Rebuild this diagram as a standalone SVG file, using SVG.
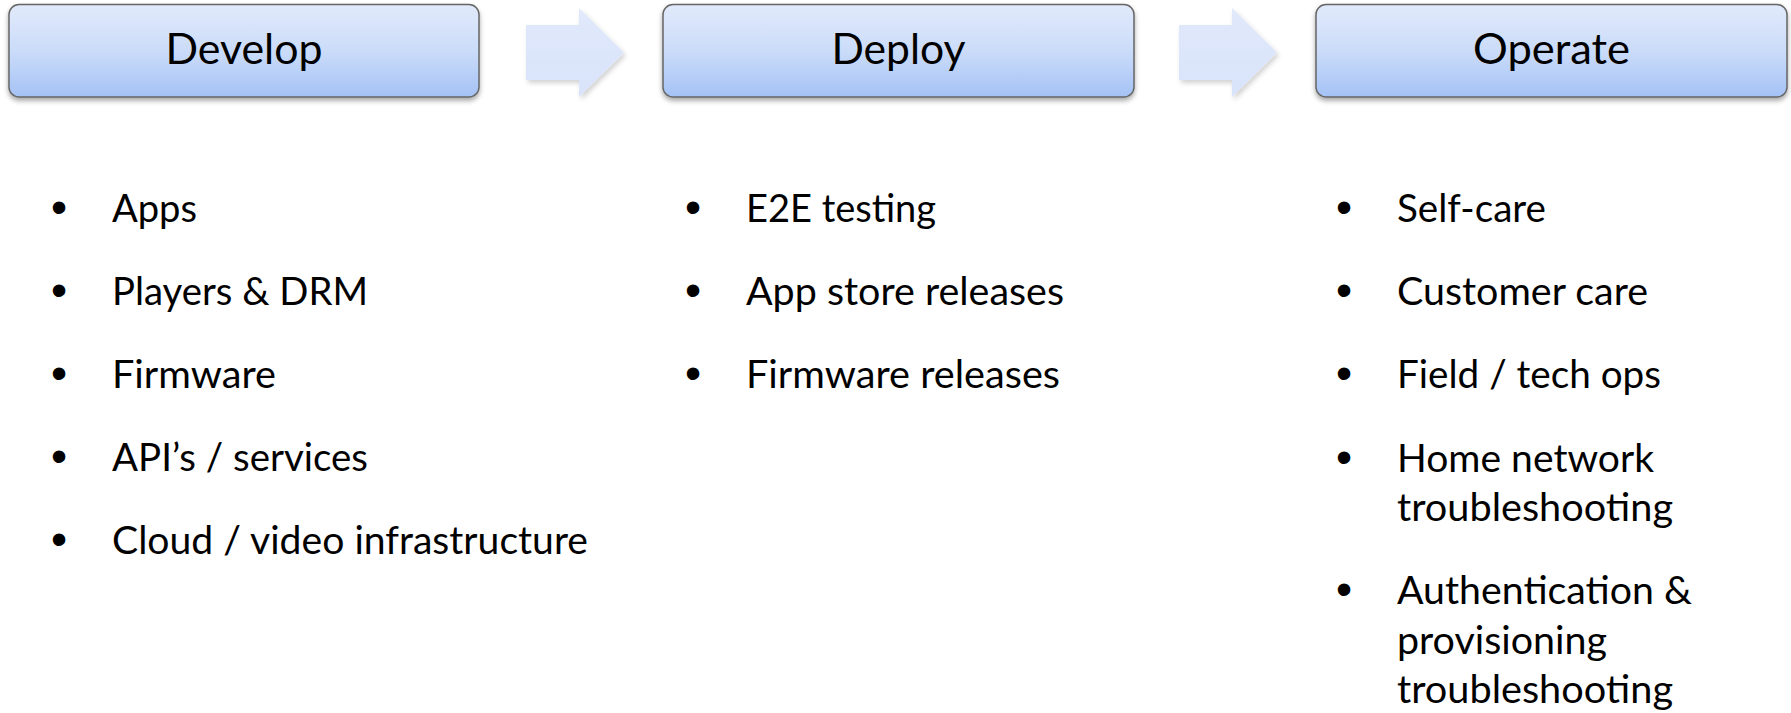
<svg xmlns="http://www.w3.org/2000/svg" width="1791" height="713" viewBox="0 0 1791 713">
  <defs>
    <linearGradient id="boxGrad" x1="0" y1="0" x2="0" y2="1">
      <stop offset="0" stop-color="#e1eafb"/>
      <stop offset="0.5" stop-color="#cbdcf9"/>
      <stop offset="1" stop-color="#a4c2f6"/>
    </linearGradient>
    <linearGradient id="arrowGrad" x1="0" y1="0" x2="0" y2="1">
      <stop offset="0" stop-color="#e1e9fb"/>
      <stop offset="1" stop-color="#d8e3fa"/>
    </linearGradient>
    <filter id="boxShadow" x="-5%" y="-20%" width="110%" height="150%">
      <feDropShadow dx="0" dy="3" stdDeviation="2.5" flood-color="#000" flood-opacity="0.35"/>
    </filter>
    <filter id="arrowShadow" x="-20%" y="-20%" width="140%" height="150%">
      <feDropShadow dx="2" dy="3" stdDeviation="2.5" flood-color="#000" flood-opacity="0.18"/>
    </filter>
  </defs>
  <style>
    .box { fill: url(#boxGrad); stroke: #666; stroke-width: 1.5; filter: url(#boxShadow); }
    .arrow { fill: url(#arrowGrad); stroke: none; filter: url(#arrowShadow); }
    .head { font-family: Lato, "Open Sans", "Liberation Sans", sans-serif; font-size: 42px; fill: #000; text-anchor: middle; }
    .item { font-family: Lato, "Open Sans", "Liberation Sans", sans-serif; font-size: 38px; fill: #000; }
    .bul { font-family: "Liberation Sans", Arial, sans-serif; font-size: 46px; fill: #000; text-anchor: middle; }
  </style>
  <rect width="1791" height="713" fill="#ffffff"/>

  <g id="connectors">
    <polygon class="arrow" points="526,25 579,25 579,8 624,52.5 579,97 579,80 526,80"/>
    <polygon class="arrow" points="1179,25 1232,25 1232,8 1277,52.5 1232,97 1232,80 1179,80"/>
  </g>

  <g id="develop">
    <rect class="box" x="9" y="4.5" width="470" height="92.5" rx="10" ry="10"/>
    <text class="head" x="244" y="64" textLength="157" lengthAdjust="spacingAndGlyphs">Develop</text>
    <text class="bul" x="59" y="222.5">•</text>
    <text class="item" x="112" y="221.5" textLength="85" lengthAdjust="spacingAndGlyphs">Apps</text>
    <text class="bul" x="59" y="305.5">•</text>
    <text class="item" x="112" y="304.5" textLength="256" lengthAdjust="spacingAndGlyphs">Players &amp; DRM</text>
    <text class="bul" x="59" y="388.5">•</text>
    <text class="item" x="112" y="387.5" textLength="164" lengthAdjust="spacingAndGlyphs">Firmware</text>
    <text class="bul" x="59" y="471.5">•</text>
    <text class="item" x="112" y="470.5" textLength="256" lengthAdjust="spacingAndGlyphs">API’s / services</text>
    <text class="bul" x="59" y="554.5">•</text>
    <text class="item" x="112" y="553.5" textLength="476" lengthAdjust="spacingAndGlyphs">Cloud / video infrastructure</text>
  </g>

  <g id="deploy">
    <rect class="box" x="663" y="4.5" width="471" height="92.5" rx="10" ry="10"/>
    <text class="head" x="898.5" y="64" textLength="134" lengthAdjust="spacingAndGlyphs">Deploy</text>
    <text class="bul" x="693" y="222.5">•</text>
    <text class="item" x="746" y="221.5" textLength="190" lengthAdjust="spacingAndGlyphs">E2E testing</text>
    <text class="bul" x="693" y="305.5">•</text>
    <text class="item" x="746" y="304.5" textLength="318" lengthAdjust="spacingAndGlyphs">App store releases</text>
    <text class="bul" x="693" y="388.5">•</text>
    <text class="item" x="746" y="387.5" textLength="314" lengthAdjust="spacingAndGlyphs">Firmware releases</text>
  </g>

  <g id="operate">
    <rect class="box" x="1316" y="4.5" width="471" height="92.5" rx="10" ry="10"/>
    <text class="head" x="1551.5" y="64" textLength="157" lengthAdjust="spacingAndGlyphs">Operate</text>
    <text class="bul" x="1344" y="222.5">•</text>
    <text class="item" x="1397" y="221.5" textLength="149" lengthAdjust="spacingAndGlyphs">Self-care</text>
    <text class="bul" x="1344" y="305.5">•</text>
    <text class="item" x="1397" y="304.5" textLength="251" lengthAdjust="spacingAndGlyphs">Customer care</text>
    <text class="bul" x="1344" y="388.5">•</text>
    <text class="item" x="1397" y="387.5" textLength="264" lengthAdjust="spacingAndGlyphs">Field / tech ops</text>
    <text class="bul" x="1344" y="473">•</text>
    <text class="item" x="1397" y="472" textLength="257" lengthAdjust="spacingAndGlyphs">Home network</text>
    <text class="item" x="1397" y="521" textLength="276" lengthAdjust="spacingAndGlyphs">troubleshooting</text>
    <text class="bul" x="1344" y="605">•</text>
    <text class="item" x="1397" y="604" textLength="295" lengthAdjust="spacingAndGlyphs">Authentication &amp;</text>
    <text class="item" x="1397" y="653.5" textLength="210" lengthAdjust="spacingAndGlyphs">provisioning</text>
    <text class="item" x="1397" y="703" textLength="276" lengthAdjust="spacingAndGlyphs">troubleshooting</text>
  </g>
</svg>
